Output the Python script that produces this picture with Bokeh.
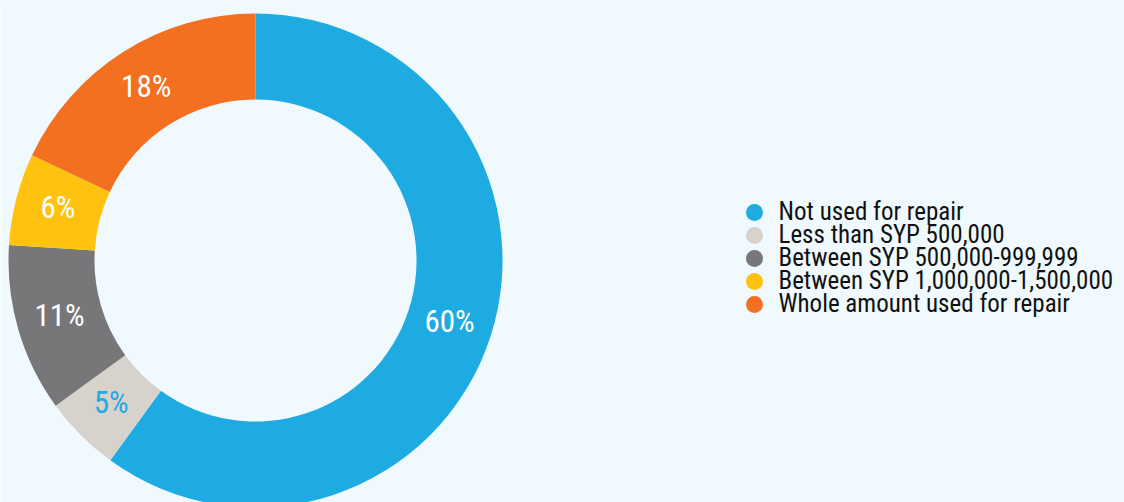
import math
from bokeh.plotting import figure
from bokeh.models import Range1d, ColumnDataSource
from bokeh.core.properties import value
from bokeh.embed import file_html
from bokeh.resources import INLINE

categories = ["Not used for repair", "Less than SYP 500,000", "Between SYP 500,000-999,999",
              "Between SYP 1,000,000-1,500,000", "Whole amount used for repair"]
shares = [60, 5, 11, 6, 18]
colors = ["#1EABE2", "#D8D2CC", "#77777A", "#FFC20E", "#F37021"]
label_colors = ["white", "#1EABE2", "white", "white", "white"]

W, H = 1124, 502
FONT = "Roboto Condensed, DejaVu Sans Condensed, Roboto, sans-serif"
BG = "#F0F9FE"

cx, cy = 255, H - 260
r_in, r_out = 161, 247

total = sum(shares)
starts, ends, lx, ly, labels = [], [], [], [], []
acc = 0.0
for s in shares:
    a0 = math.pi / 2 - 2 * math.pi * acc / total
    a1 = math.pi / 2 - 2 * math.pi * (acc + s) / total
    starts.append(a0)
    ends.append(a1)
    mid = (a0 + a1) / 2
    rm = (r_in + r_out) / 2
    lx.append(cx + rm * math.cos(mid))
    ly.append(cy + rm * math.sin(mid) + 2)
    labels.append(f"{s}%")
    acc += s

src = ColumnDataSource(dict(start=starts, end=ends, color=colors, lx=lx, ly=ly,
                            label=labels, lcolor=label_colors))

p = figure(width=W, height=H, output_backend="svg", toolbar_location=None,
           x_range=Range1d(0, W), y_range=Range1d(0, H), min_border=0)
p.axis.visible = False
p.grid.visible = False
p.outline_line_color = None
p.background_fill_color = BG
p.border_fill_color = BG

p.annular_wedge(x=cx, y=cy, inner_radius=r_in, outer_radius=r_out,
                start_angle="start", end_angle="end", direction="clock",
                fill_color="color", line_color=None, source=src)
p.text(x="lx", y="ly", text="label", text_color="lcolor", source=src,
       text_font=value(FONT), text_font_size="31px", text_align="center",
       text_baseline="middle")

# legend
leg_x = 754
leg_y0 = H - 212
step = 23
ys = [leg_y0 - i * step for i in range(len(categories))]
lsrc = ColumnDataSource(dict(x=[leg_x] * len(categories), y=ys, color=colors,
                             tx=[leg_x + 24] * len(categories), ty=[y + 1 for y in ys],
                             text=categories))
p.scatter(x="x", y="y", size=17, fill_color="color", line_color=None, source=lsrc)
p.text(x="tx", y="ty", text="text", source=lsrc, text_font=value(FONT),
       text_font_size="25px", text_color="#111111", text_baseline="middle")

open("out.html", "w").write(file_html(p, INLINE))
